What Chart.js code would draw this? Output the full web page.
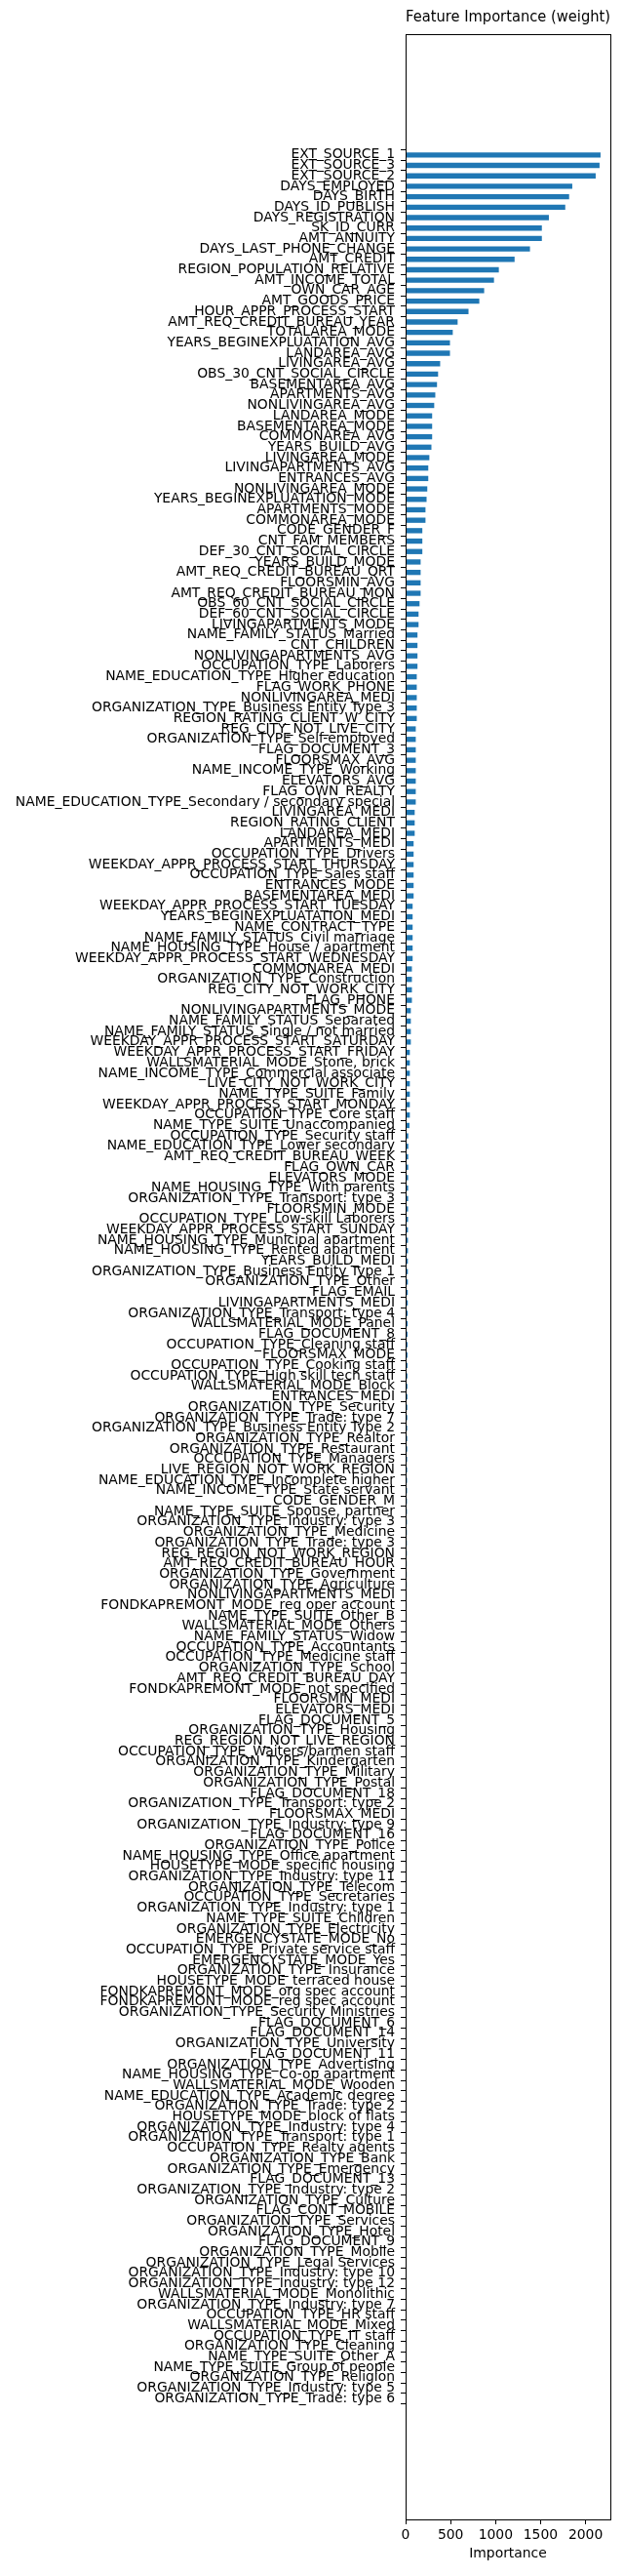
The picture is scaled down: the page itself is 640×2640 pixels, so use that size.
<!DOCTYPE html>
<html>
<head>
<meta charset="utf-8">
<script src="https://cdn.jsdelivr.net/npm/chart.js@4.4.1/dist/chart.umd.min.js"></script>
<style>
	html, body { margin: 0; padding: 0; background: #fff; }
	canvas { display: block; }
</style>
</head>
<body>
<canvas id="importanceChart" width="640" height="2640"></canvas>
<script>
const featureNames = [
	'EXT_SOURCE_1', 'EXT_SOURCE_3', 'EXT_SOURCE_2', 'DAYS_EMPLOYED', 'DAYS_BIRTH',
	'DAYS_ID_PUBLISH', 'DAYS_REGISTRATION', 'SK_ID_CURR', 'AMT_ANNUITY', 'DAYS_LAST_PHONE_CHANGE',
	'AMT_CREDIT', 'REGION_POPULATION_RELATIVE', 'AMT_INCOME_TOTAL', 'OWN_CAR_AGE', 'AMT_GOODS_PRICE',
	'HOUR_APPR_PROCESS_START', 'AMT_REQ_CREDIT_BUREAU_YEAR', 'TOTALAREA_MODE', 'YEARS_BEGINEXPLUATATION_AVG', 'LANDAREA_AVG',
	'LIVINGAREA_AVG', 'OBS_30_CNT_SOCIAL_CIRCLE', 'BASEMENTAREA_AVG', 'APARTMENTS_AVG', 'NONLIVINGAREA_AVG',
	'LANDAREA_MODE', 'BASEMENTAREA_MODE', 'COMMONAREA_AVG', 'YEARS_BUILD_AVG', 'LIVINGAREA_MODE',
	'LIVINGAPARTMENTS_AVG',
	'ENTRANCES_AVG', 'NONLIVINGAREA_MODE', 'YEARS_BEGINEXPLUATATION_MODE', 'APARTMENTS_MODE', 'COMMONAREA_MODE',
	'CODE_GENDER_F', 'CNT_FAM_MEMBERS', 'DEF_30_CNT_SOCIAL_CIRCLE', 'YEARS_BUILD_MODE', 'AMT_REQ_CREDIT_BUREAU_QRT',
	'FLOORSMIN_AVG', 'AMT_REQ_CREDIT_BUREAU_MON', 'OBS_60_CNT_SOCIAL_CIRCLE', 'DEF_60_CNT_SOCIAL_CIRCLE', 'LIVINGAPARTMENTS_MODE',
	'NAME_FAMILY_STATUS_Married',
	'CNT_CHILDREN', 'NONLIVINGAPARTMENTS_AVG', 'OCCUPATION_TYPE_Laborers', 'NAME_EDUCATION_TYPE_Higher education', 'FLAG_WORK_PHONE',
	'NONLIVINGAREA_MEDI', 'ORGANIZATION_TYPE_Business Entity Type 3', 'REGION_RATING_CLIENT_W_CITY', 'REG_CITY_NOT_LIVE_CITY', 'ORGANIZATION_TYPE_Self-employed',
	'FLAG_DOCUMENT_3', 'FLOORSMAX_AVG', 'NAME_INCOME_TYPE_Working', 'ELEVATORS_AVG', 'FLAG_OWN_REALTY',
	'NAME_EDUCATION_TYPE_Secondary / secondary special',
	'LIVINGAREA_MEDI', 'REGION_RATING_CLIENT', 'LANDAREA_MEDI', 'APARTMENTS_MEDI', 'OCCUPATION_TYPE_Drivers',
	'WEEKDAY_APPR_PROCESS_START_THURSDAY', 'OCCUPATION_TYPE_Sales staff', 'ENTRANCES_MODE', 'BASEMENTAREA_MEDI', 'WEEKDAY_APPR_PROCESS_START_TUESDAY',
	'YEARS_BEGINEXPLUATATION_MEDI', 'NAME_CONTRACT_TYPE', 'NAME_FAMILY_STATUS_Civil marriage', 'NAME_HOUSING_TYPE_House / apartment', 'WEEKDAY_APPR_PROCESS_START_WEDNESDAY',
	'COMMONAREA_MEDI',
	'ORGANIZATION_TYPE_Construction', 'REG_CITY_NOT_WORK_CITY', 'FLAG_PHONE', 'NONLIVINGAPARTMENTS_MODE', 'NAME_FAMILY_STATUS_Separated',
	'NAME_FAMILY_STATUS_Single / not married', 'WEEKDAY_APPR_PROCESS_START_SATURDAY', 'WEEKDAY_APPR_PROCESS_START_FRIDAY', 'WALLSMATERIAL_MODE_Stone, brick', 'NAME_INCOME_TYPE_Commercial associate',
	'LIVE_CITY_NOT_WORK_CITY', 'NAME_TYPE_SUITE_Family', 'WEEKDAY_APPR_PROCESS_START_MONDAY', 'OCCUPATION_TYPE_Core staff', 'NAME_TYPE_SUITE_Unaccompanied',
	'OCCUPATION_TYPE_Security staff', 'NAME_EDUCATION_TYPE_Lower secondary', 'AMT_REQ_CREDIT_BUREAU_WEEK', 'FLAG_OWN_CAR', 'ELEVATORS_MODE',
	'NAME_HOUSING_TYPE_With parents', 'ORGANIZATION_TYPE_Transport: type 3', 'FLOORSMIN_MODE', 'OCCUPATION_TYPE_Low-skill Laborers', 'WEEKDAY_APPR_PROCESS_START_SUNDAY',
	'NAME_HOUSING_TYPE_Municipal apartment', 'NAME_HOUSING_TYPE_Rented apartment', 'YEARS_BUILD_MEDI', 'ORGANIZATION_TYPE_Business Entity Type 1', 'ORGANIZATION_TYPE_Other',
	'FLAG_EMAIL',
	'LIVINGAPARTMENTS_MEDI', 'ORGANIZATION_TYPE_Transport: type 4', 'WALLSMATERIAL_MODE_Panel', 'FLAG_DOCUMENT_8', 'OCCUPATION_TYPE_Cleaning staff',
	'FLOORSMAX_MODE', 'OCCUPATION_TYPE_Cooking staff', 'OCCUPATION_TYPE_High skill tech staff', 'WALLSMATERIAL_MODE_Block', 'ENTRANCES_MEDI',
	'ORGANIZATION_TYPE_Security', 'ORGANIZATION_TYPE_Trade: type 7', 'ORGANIZATION_TYPE_Business Entity Type 2', 'ORGANIZATION_TYPE_Realtor', 'ORGANIZATION_TYPE_Restaurant',
	'OCCUPATION_TYPE_Managers',
	'LIVE_REGION_NOT_WORK_REGION', 'NAME_EDUCATION_TYPE_Incomplete higher', 'NAME_INCOME_TYPE_State servant', 'CODE_GENDER_M', 'NAME_TYPE_SUITE_Spouse, partner',
	'ORGANIZATION_TYPE_Industry: type 3', 'ORGANIZATION_TYPE_Medicine', 'ORGANIZATION_TYPE_Trade: type 3', 'REG_REGION_NOT_WORK_REGION', 'AMT_REQ_CREDIT_BUREAU_HOUR',
	'ORGANIZATION_TYPE_Government', 'ORGANIZATION_TYPE_Agriculture', 'NONLIVINGAPARTMENTS_MEDI', 'FONDKAPREMONT_MODE_reg oper account', 'NAME_TYPE_SUITE_Other_B',
	'WALLSMATERIAL_MODE_Others',
	'NAME_FAMILY_STATUS_Widow', 'OCCUPATION_TYPE_Accountants', 'OCCUPATION_TYPE_Medicine staff', 'ORGANIZATION_TYPE_School', 'AMT_REQ_CREDIT_BUREAU_DAY',
	'FONDKAPREMONT_MODE_not specified', 'FLOORSMIN_MEDI', 'ELEVATORS_MEDI', 'FLAG_DOCUMENT_5', 'ORGANIZATION_TYPE_Housing',
	'REG_REGION_NOT_LIVE_REGION', 'OCCUPATION_TYPE_Waiters/barmen staff', 'ORGANIZATION_TYPE_Kindergarten', 'ORGANIZATION_TYPE_Military', 'ORGANIZATION_TYPE_Postal',
	'FLAG_DOCUMENT_18',
	'ORGANIZATION_TYPE_Transport: type 2', 'FLOORSMAX_MEDI', 'ORGANIZATION_TYPE_Industry: type 9', 'FLAG_DOCUMENT_16', 'ORGANIZATION_TYPE_Police',
	'NAME_HOUSING_TYPE_Office apartment', 'HOUSETYPE_MODE_specific housing', 'ORGANIZATION_TYPE_Industry: type 11', 'ORGANIZATION_TYPE_Telecom', 'OCCUPATION_TYPE_Secretaries',
	'ORGANIZATION_TYPE_Industry: type 1', 'NAME_TYPE_SUITE_Children', 'ORGANIZATION_TYPE_Electricity', 'EMERGENCYSTATE_MODE_No', 'OCCUPATION_TYPE_Private service staff',
	'EMERGENCYSTATE_MODE_Yes',
	'ORGANIZATION_TYPE_Insurance', 'HOUSETYPE_MODE_terraced house', 'FONDKAPREMONT_MODE_org spec account', 'FONDKAPREMONT_MODE_reg spec account', 'ORGANIZATION_TYPE_Security Ministries',
	'FLAG_DOCUMENT_6', 'FLAG_DOCUMENT_14', 'ORGANIZATION_TYPE_University', 'FLAG_DOCUMENT_11', 'ORGANIZATION_TYPE_Advertising',
	'NAME_HOUSING_TYPE_Co-op apartment', 'WALLSMATERIAL_MODE_Wooden', 'NAME_EDUCATION_TYPE_Academic degree', 'ORGANIZATION_TYPE_Trade: type 2', 'HOUSETYPE_MODE_block of flats',
	'ORGANIZATION_TYPE_Industry: type 4', 'ORGANIZATION_TYPE_Transport: type 1', 'OCCUPATION_TYPE_Realty agents', 'ORGANIZATION_TYPE_Bank', 'ORGANIZATION_TYPE_Emergency',
	'FLAG_DOCUMENT_13', 'ORGANIZATION_TYPE_Industry: type 2', 'ORGANIZATION_TYPE_Culture', 'FLAG_CONT_MOBILE', 'ORGANIZATION_TYPE_Services',
	'ORGANIZATION_TYPE_Hotel', 'FLAG_DOCUMENT_9', 'ORGANIZATION_TYPE_Mobile', 'ORGANIZATION_TYPE_Legal Services', 'ORGANIZATION_TYPE_Industry: type 10',
	'ORGANIZATION_TYPE_Industry: type 12', 'WALLSMATERIAL_MODE_Monolithic', 'ORGANIZATION_TYPE_Industry: type 7', 'OCCUPATION_TYPE_HR staff', 'WALLSMATERIAL_MODE_Mixed',
	'OCCUPATION_TYPE_IT staff', 'ORGANIZATION_TYPE_Cleaning', 'NAME_TYPE_SUITE_Other_A', 'NAME_TYPE_SUITE_Group of people', 'ORGANIZATION_TYPE_Religion',
	'ORGANIZATION_TYPE_Industry: type 5', 'ORGANIZATION_TYPE_Trade: type 6'
];

const importance = [
	2166, 2155, 2112, 1852, 1817, 1774, 1592, 1514, 1514, 1382, 1211, 1036, 982, 873, 819,
	699, 578, 524, 493, 493, 384, 361, 349, 330, 318, 295, 295, 295, 287, 264, 252,
	252, 241, 233, 221, 221, 186, 186, 186, 167, 167, 167, 167, 155, 144, 144, 132,
	132, 132, 132, 124, 124, 124, 124, 124, 113, 113, 113, 113, 113, 113, 113, 113,
	101, 101, 101, 89, 89, 89, 89, 89, 89, 78, 78, 78, 78, 78, 78, 70,
	70, 70, 70, 58, 58, 58, 58, 47, 47, 47, 47, 47, 47, 47, 43,
	30, 30, 29, 29, 28, 28, 28, 27, 27, 26, 26, 26, 25, 25, 25, 24,
	24, 23, 23, 22, 22, 21, 21, 20, 20, 20, 19, 19, 18, 18, 18, 17,
	17, 16, 16, 15, 15, 15, 14, 14, 14, 13, 13, 13, 12, 12, 12, 11,
	11, 11, 10, 10, 10, 10, 9, 9, 9, 9, 8, 8, 8, 8, 7, 7,
	7, 7, 7, 6, 6, 6, 6, 6, 5, 5, 5, 5, 5, 4, 4, 4,
	4, 4, 4, 4, 3, 3, 3, 3, 3, 3, 3, 3, 3, 3, 2, 2, 2, 2, 2, 2, 2,
	2, 2, 2, 2, 2, 2, 2, 1, 1, 1, 1, 1, 1, 1, 1, 1, 1, 1, 1, 1, 1
];

const xTicks = [0, 500, 1000, 1500, 2000];

Chart.defaults.font.family = 'DejaVu Sans';
Chart.defaults.font.size = 13.9;
Chart.defaults.color = '#000';

// matplotlib-like frame around the plot
const frameBox = {
	id: 'frameBox',
	afterDraw(chart) {
		const { ctx, chartArea } = chart;
		ctx.save();
		ctx.strokeStyle = '#000';
		ctx.lineWidth = 1;
		ctx.strokeRect(Math.round(chartArea.left) + 0.5, Math.round(chartArea.top) + 0.5,
			Math.round(chartArea.right - chartArea.left), Math.round(chartArea.bottom - chartArea.top));
		ctx.restore();
	}
};

const n = featureNames.length;
const yPad = 0.25 + 0.05 * (n - 0.5);

new Chart(document.getElementById('importanceChart'), {
	type: 'bar',
	data: {
		datasets: [{
			data: importance.map((v, i) => ({ x: v, y: i })),
			backgroundColor: '#1f77b4',
			borderWidth: 0,
			barPercentage: 0.5,
			categoryPercentage: 1
		}]
	},
	options: {
		indexAxis: 'y',
		responsive: false,
		animation: false,
		devicePixelRatio: 1,
		layout: { padding: { left: 0, right: 14, top: 0, bottom: 0 } },
		plugins: {
			legend: { display: false },
			tooltip: { enabled: false },
			title: {
				display: true,
				text: 'Feature Importance (weight)',
				fullSize: false,
				font: { size: 16.7, weight: 'normal' },
				color: '#000',
				padding: { top: 8, bottom: 7 }
			}
		},
		scales: {
			x: {
				type: 'linear',
				min: 0,
				max: 2275,
				afterFit: (scale) => { scale.height = 58; },
				afterBuildTicks: (scale) => { scale.ticks = xTicks.map(v => ({ value: v })); },
				grid: { drawOnChartArea: false, tickLength: 5, tickColor: '#000' },
				border: { display: false },
				ticks: { padding: 3, autoSkip: false, maxRotation: 0, callback: (value) => String(value) },
				title: { display: true, text: 'Importance', font: { size: 13.9 }, padding: { top: 0, bottom: 14.6 } }
			},
			y: {
				type: 'linear',
				reverse: true,
				min: -yPad,
				max: n - 1 + yPad,
				afterFit: (scale) => { scale.width = 416; },
				afterBuildTicks: (scale) => { scale.ticks = featureNames.map((_, i) => ({ value: i })); },
				grid: { drawOnChartArea: false, tickLength: 5, tickColor: '#000' },
				border: { display: false },
				ticks: {
					autoSkip: false,
					padding: 6,
					callback: (value) => featureNames[value] ?? ''
				}
			}
		}
	},
	plugins: [frameBox]
});
</script>
</body>
</html>
